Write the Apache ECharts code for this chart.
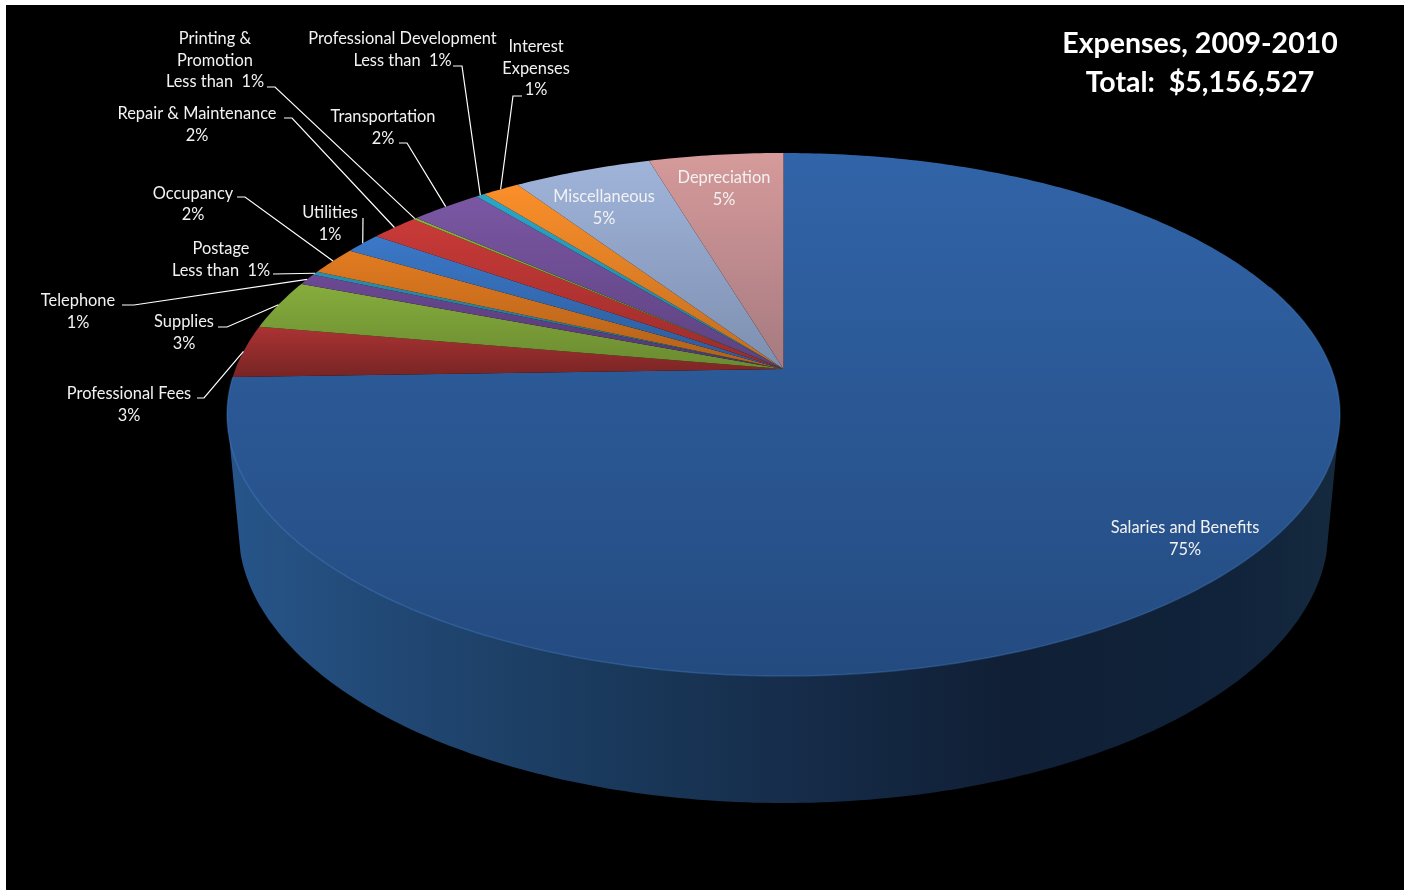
<!DOCTYPE html>
<html><head><meta charset="utf-8">
<style>html,body{margin:0;padding:0;background:#fff}
#bg{position:absolute;left:6px;top:5px;width:1398px;height:885px;background:#000}
#main{position:absolute;left:0;top:0;width:1408px;height:890px}</style>
<script src="https://cdn.jsdelivr.net/npm/echarts@6/dist/echarts.min.js"></script>
</head><body><div id="bg"></div><div id="main"></div>
<script>
const titleLines = ['Expenses, 2009-2010', 'Total:  $5,156,527'];
const categories = ['Salaries and Benefits','Professional Fees','Supplies','Telephone','Postage','Occupancy','Utilities','Repair & Maintenance','Printing &\nPromotion','Transportation','Professional Development','Interest\nExpenses','Miscellaneous','Depreciation'];
const sharePercent = [74.5,3.24,3.06,0.7,0.24,1.74,1.28,1.68,0.12,2.48,0.3,1.28,4.76,4.62];
const shareLabels = ['75%','3%','3%','1%','Less than  1%','2%','1%','2%','Less than  1%','2%','Less than  1%','1%','5%','5%'];
const sliceColors = ['#3164a8','#ab3333','#86ad3d','#6c4a94','#2b8fae','#e27b20','#3b78c8','#c93a38','#8ab23e','#7b57a3','#2ba6c8','#fb8f2a','#a0b4da','#d69a9a'];
const sliceDark   = ['#244b80','#772424','#6a8a30','#503670','#1f6a82','#b0601a','#2c5a98','#9a2c2a','#6a8a30','#5c4180','#207f9a','#c06d20','#7d8fb0','#a57a80'];

// layout (view geometry, not data)
const P = {cx:783.5, cy:369, A:548, B:253.6, k:0.174};
const lower = {cx:783.5, cy:530, rx:545, ry:273};
const topE = {cx:783.5, cy:414.5, rx:556.5};
const lineH = 21.5, fontFamily = 'Lato, "Noto Sans", sans-serif';
// label centre x, first-line centre y, optional leader: start + elbow
const labelPos = [
 {x:1185,y:528},
 {x:129,y:394,lead:[[197,398],[204,398]]},
 {x:184,y:322,lead:[[218,327],[227,327]]},
 {x:78,y:301,lead:[[122,305],[134,305]]},
 {x:221,y:249,lead:[[273,274]]},
 {x:193,y:193.5,lead:[[237,197],[245,197]]},
 {x:330,y:213,lead:[[363,218]]},
 {x:197,y:114,lead:[[284,118],[292,118]]},
 {x:215,y:39,lead:[[267,87],[275,87]]},
 {x:383,y:117,lead:[[399,143],[407,143]]},
 {x:402.5,y:39,lead:[[453,66],[462,66]]},
 {x:536,y:47,lead:[[522,96],[513,96]]},
 {x:604,y:197},
 {x:724,y:178}
];
const total = sharePercent.reduce((a,b)=>a+b,0);
const edges = [0]; sharePercent.forEach(v=>edges.push(edges[edges.length-1]+v/total*360));
function rim(deg){const t=deg*Math.PI/180,u=Math.sin(t),v=Math.cos(t),d=1+P.k*v;
  return [P.cx+P.A*u/d, P.cy-P.B*v/d];}
function arc(a,b){const pts=[],n=Math.max(2,Math.ceil((b-a)/0.75));
  for(let i=0;i<=n;i++)pts.push(rim(a+(b-a)*i/n));return pts;}

const data = categories.map((c,i)=>[i,sharePercent[i]]);

function renderSlice(params){
  const i=params.dataIndex, a=edges[i], b=edges[i+1], kids=[];
  kids.push({type:'polygon',shape:{points:[[P.cx,P.cy]].concat(arc(a,b))},
    style:{fill:{type:'linear',x:0,y:0,x2:0,y2:1,colorStops:[{offset:0,color:sliceColors[i]},{offset:1,color:sliceDark[i]}]},stroke:null}});
  if(i===0){
    kids.push({type:'polyline',shape:{points:arc(70,b)},style:{fill:null,stroke:'rgba(84,146,222,0.28)',lineWidth:1.5}});
  }
  return {type:'group',children:kids};
}
function renderSide(){
  const pts=[[topE.cx-topE.rx,topE.cy]];
  for(let d=175;d>=5;d-=1){const t=d*Math.PI/180;pts.push([lower.cx+lower.rx*Math.cos(t),lower.cy+lower.ry*Math.sin(t)]);}
  pts.push([topE.cx+topE.rx,topE.cy]);
  return {type:'polygon',shape:{points:pts},style:{stroke:null,fill:{type:'linear',x:0,y:0,x2:1,y2:0,colorStops:[
    {offset:0,color:'#27558a'},{offset:0.15,color:'#214874'},{offset:0.33,color:'#1a3a5d'},{offset:0.5,color:'#162d4b'},{offset:0.7,color:'#101f35'},{offset:0.9,color:'#10233a'},{offset:1,color:'#15293f'}]}}};
}
function renderLabel(params){
  const i=params.dataIndex,L=labelPos[i],kids=[];
  kids.push({type:'text',x:L.x,y:L.y-lineH/2,style:{text:categories[i]+'\n'+shareLabels[i],fill:'#f2f2f2',align:'center',verticalAlign:'top',
    font:'16.4px '+fontFamily,lineHeight:lineH}});
  if(L.lead){
    const end=rim((edges[i]+edges[i+1])/2);
    kids.push({type:'polyline',shape:{points:L.lead.concat([end])},style:{fill:null,stroke:'#fff',lineWidth:1.2}});
  }
  return {type:'group',children:kids};
}
const chart=echarts.init(document.getElementById('main'),null,{renderer:'canvas'});
chart.setOption({
  animation:false,
  backgroundColor:'transparent',
  title:{text:titleLines.join('\n'),left:1195,top:19,textAlign:'center',
    textStyle:{color:'#fff',fontFamily:fontFamily,fontWeight:'bold',fontSize:28.5,lineHeight:39}},
  tooltip:{show:false},
  series:[
    {type:'custom',coordinateSystem:'none',silent:true,z:1,data:[data[0]],renderItem:renderSide},
    {type:'custom',coordinateSystem:'none',silent:true,z:2,data:data,renderItem:renderSlice},
    {type:'custom',coordinateSystem:'none',silent:true,z:3,data:data,renderItem:renderLabel}
  ]
});
</script></body></html>
